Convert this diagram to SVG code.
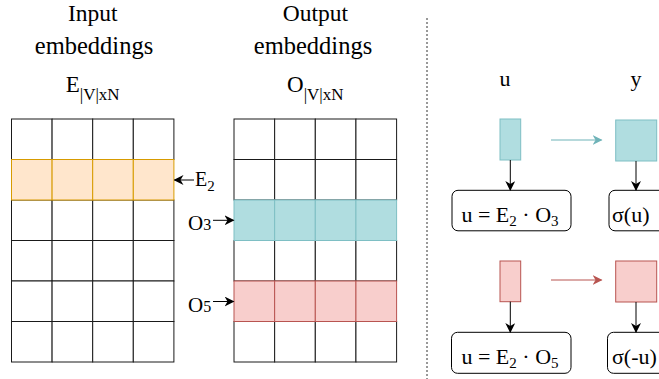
<svg xmlns="http://www.w3.org/2000/svg" width="659" height="379" viewBox="0 0 659 379">
<style>
text{font-family:"Liberation Serif","Times New Roman",serif;fill:#000}
.c{fill:#fff;stroke:#1a1a1a;stroke-width:1}
.or{fill:#ffe6cc;stroke:#d79b00;stroke-width:1}
.te{fill:#b0dde0;stroke:#7ebfc4;stroke-width:1}
.pk{fill:#f8cecc;stroke:#b85450;stroke-width:1}
.box{fill:#fff;stroke:#000;stroke-width:1}
.ln{fill:none;stroke:#000;stroke-width:1}
</style>
<defs>
<marker id="ab" viewBox="0 0 10 10" refX="9" refY="5" markerWidth="10" markerHeight="10" markerUnits="userSpaceOnUse" orient="auto">
<path d="M0,0 L10,5 L0,10 L3,5 Z" fill="#000"/>
</marker>
<marker id="at" viewBox="0 0 10 10" refX="9" refY="5" markerWidth="10" markerHeight="10" markerUnits="userSpaceOnUse" orient="auto">
<path d="M0,0 L10,5 L0,10 L3,5 Z" fill="#6fb3b8"/>
</marker>
<marker id="ap" viewBox="0 0 10 10" refX="9" refY="5" markerWidth="10" markerHeight="10" markerUnits="userSpaceOnUse" orient="auto">
<path d="M0,0 L10,5 L0,10 L3,5 Z" fill="#b85450"/>
</marker>
</defs>

<g id="input-title">
<text x="92.7" y="21" font-size="23.5" text-anchor="middle">Input</text>
<text x="94" y="54" font-size="24.5" text-anchor="middle">embeddings</text>
<text x="92.7" y="92" font-size="23" text-anchor="middle">E<tspan font-size="17" dy="8">|V|xN</tspan></text>
</g>
<g id="output-title">
<text x="315.3" y="21" font-size="23.5" text-anchor="middle">Output</text>
<text x="313" y="54" font-size="24.5" text-anchor="middle">embeddings</text>
<text x="315.3" y="92" font-size="23" text-anchor="middle">O<tspan font-size="17" dy="8">|V|xN</tspan></text>
</g>

<g id="input-grid">
<rect class="c" x="11.5" y="119" width="40.6" height="40.5"/><rect class="c" x="52.1" y="119" width="40.6" height="40.5"/><rect class="c" x="92.7" y="119" width="40.6" height="40.5"/><rect class="c" x="133.3" y="119" width="40.6" height="40.5"/>
<rect class="c" x="11.5" y="200" width="40.6" height="40.5"/><rect class="c" x="52.1" y="200" width="40.6" height="40.5"/><rect class="c" x="92.7" y="200" width="40.6" height="40.5"/><rect class="c" x="133.3" y="200" width="40.6" height="40.5"/>
<rect class="c" x="11.5" y="240.5" width="40.6" height="40.5"/><rect class="c" x="52.1" y="240.5" width="40.6" height="40.5"/><rect class="c" x="92.7" y="240.5" width="40.6" height="40.5"/><rect class="c" x="133.3" y="240.5" width="40.6" height="40.5"/>
<rect class="c" x="11.5" y="281" width="40.6" height="40.5"/><rect class="c" x="52.1" y="281" width="40.6" height="40.5"/><rect class="c" x="92.7" y="281" width="40.6" height="40.5"/><rect class="c" x="133.3" y="281" width="40.6" height="40.5"/>
<rect class="c" x="11.5" y="321.5" width="40.6" height="40.5"/><rect class="c" x="52.1" y="321.5" width="40.6" height="40.5"/><rect class="c" x="92.7" y="321.5" width="40.6" height="40.5"/><rect class="c" x="133.3" y="321.5" width="40.6" height="40.5"/>
<rect class="or" x="11.5" y="159.5" width="40.6" height="40.5"/><rect class="or" x="52.1" y="159.5" width="40.6" height="40.5"/><rect class="or" x="92.7" y="159.5" width="40.6" height="40.5"/><rect class="or" x="133.3" y="159.5" width="40.6" height="40.5"/>
</g>

<g id="output-grid">
<rect class="c" x="234" y="119" width="40.65" height="40.5"/><rect class="c" x="274.65" y="119" width="40.65" height="40.5"/><rect class="c" x="315.3" y="119" width="40.65" height="40.5"/><rect class="c" x="355.95" y="119" width="40.65" height="40.5"/>
<rect class="c" x="234" y="159.5" width="40.65" height="40.5"/><rect class="c" x="274.65" y="159.5" width="40.65" height="40.5"/><rect class="c" x="315.3" y="159.5" width="40.65" height="40.5"/><rect class="c" x="355.95" y="159.5" width="40.65" height="40.5"/>
<rect class="c" x="234" y="240.5" width="40.65" height="40.5"/><rect class="c" x="274.65" y="240.5" width="40.65" height="40.5"/><rect class="c" x="315.3" y="240.5" width="40.65" height="40.5"/><rect class="c" x="355.95" y="240.5" width="40.65" height="40.5"/>
<rect class="c" x="234" y="321.5" width="40.65" height="40.5"/><rect class="c" x="274.65" y="321.5" width="40.65" height="40.5"/><rect class="c" x="315.3" y="321.5" width="40.65" height="40.5"/><rect class="c" x="355.95" y="321.5" width="40.65" height="40.5"/>
<rect class="te" x="234" y="200" width="40.65" height="40.5"/><rect class="te" x="274.65" y="200" width="40.65" height="40.5"/><rect class="te" x="315.3" y="200" width="40.65" height="40.5"/><rect class="te" x="355.95" y="200" width="40.65" height="40.5"/>
<rect class="pk" x="234" y="281" width="40.65" height="40.5"/><rect class="pk" x="274.65" y="281" width="40.65" height="40.5"/><rect class="pk" x="315.3" y="281" width="40.65" height="40.5"/><rect class="pk" x="355.95" y="281" width="40.65" height="40.5"/>
</g>

<g id="label-e2"><text x="195" y="186" font-size="20">E<tspan font-size="15" dy="5">2</tspan></text></g>
<g id="label-o3"><text x="188" y="230" font-size="21">O<tspan font-size="16">3</tspan></text></g>
<g id="label-o5"><text x="188" y="311.5" font-size="21">O<tspan font-size="16">5</tspan></text></g>

<g id="divider"><line x1="427" y1="18" x2="427" y2="379" stroke="#333" stroke-width="1" stroke-dasharray="2,2"/></g>

<g id="label-u"><text x="505" y="86" font-size="22" text-anchor="middle">u</text></g>
<g id="label-y"><text x="636" y="86" font-size="22" text-anchor="middle">y</text></g>

<g id="u-top"><rect class="te" x="500" y="119" width="20.7" height="41"/></g>
<g id="y-top"><rect class="te" x="615.7" y="120" width="41" height="41"/></g>
<g id="u-bottom"><rect class="pk" x="500" y="261" width="20.7" height="40.7"/></g>
<g id="y-bottom"><rect class="pk" x="615.7" y="261" width="41" height="41"/></g>

<g id="eq-top"><rect class="box" x="452" y="190.3" width="119" height="40.5" rx="6"/>
<text x="510" y="221.7" font-size="22" text-anchor="middle">u = E<tspan font-size="15" dy="4">2</tspan><tspan dy="-4"> · O</tspan><tspan font-size="15" dy="4">3</tspan></text></g>
<g id="sig-top"><rect class="box" x="609" y="190.3" width="80" height="40.5" rx="6"/>
<text x="612" y="221.7" font-size="22">σ(u)</text></g>
<g id="eq-bottom"><rect class="box" x="451.5" y="332.3" width="119.5" height="41" rx="6"/>
<text x="510" y="364" font-size="22" text-anchor="middle">u = E<tspan font-size="15" dy="4">2</tspan><tspan dy="-4"> · O</tspan><tspan font-size="15" dy="4">5</tspan></text></g>
<g id="sig-bottom"><rect class="box" x="607.5" y="332.3" width="80" height="41" rx="6"/>
<text x="612" y="364" font-size="22">σ(-u)</text></g>

<g id="connectors">
<line class="ln" x1="194" y1="180" x2="174.5" y2="180" marker-end="url(#ab)"/>
<line class="ln" x1="213" y1="220.3" x2="233.5" y2="220.3" marker-end="url(#ab)"/>
<line class="ln" x1="213" y1="301.5" x2="233.5" y2="301.5" marker-end="url(#ab)"/>
<line class="ln" x1="510.3" y1="160" x2="510.3" y2="190" marker-end="url(#ab)"/>
<line class="ln" x1="636" y1="161" x2="636" y2="190" stroke="#555" marker-end="url(#ab)"/>
<line class="ln" x1="510.3" y1="301.7" x2="510.3" y2="332" marker-end="url(#ab)"/>
<line class="ln" x1="636" y1="302" x2="636" y2="332" stroke="#555" marker-end="url(#ab)"/>
<line x1="551" y1="140" x2="601.5" y2="140" stroke="#6fb3b8" stroke-width="1" marker-end="url(#at)"/>
<line x1="551" y1="280" x2="601.5" y2="280" stroke="#b85450" stroke-width="1" marker-end="url(#ap)"/>
</g>
</svg>
